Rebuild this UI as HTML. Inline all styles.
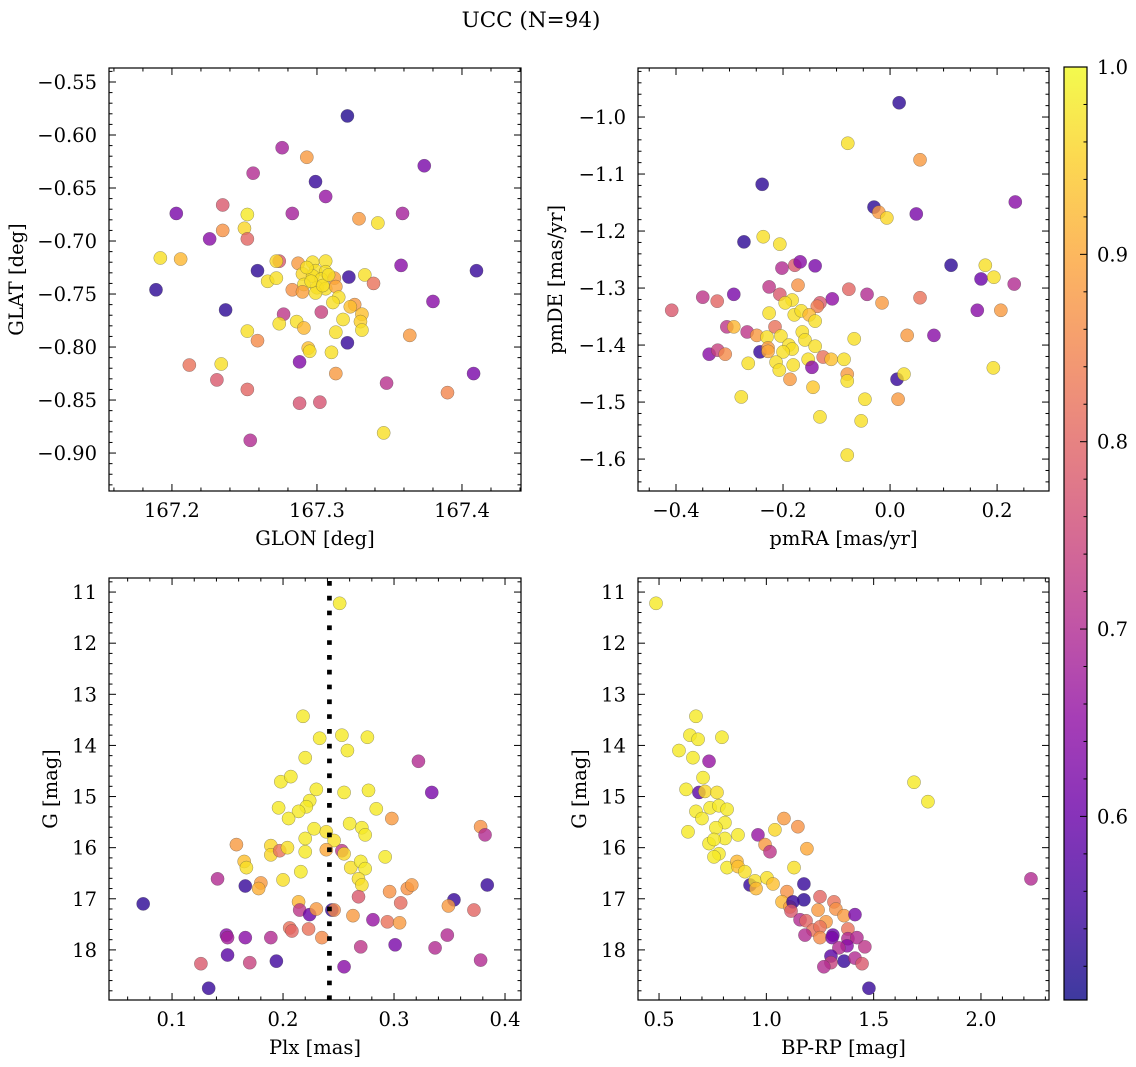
<!DOCTYPE html>
<html>
<head>
<meta charset="utf-8">
<style>
  html,body{margin:0;padding:0;background:#fff;}
  svg{display:block;}
  text{font-family:"DejaVu Serif","Liberation Serif",serif;fill:#000;}
</style>
</head>
<body>
<svg id="fig" width="1136" height="1067" viewBox="0 0 1136 1067" xmlns="http://www.w3.org/2000/svg">
  <text x="531" y="27" font-size="21.5" text-anchor="middle">UCC (N=94)</text>
</svg>
<script>
// ---------- data: [x, y, membership probability] ----------
const skyPoints = [
[167.321,-0.582,.52],[167.276,-0.612,.68],[167.293,-0.621,.88],[167.256,-0.636,.70],[167.299,-0.644,.54],
[167.374,-0.629,.62],[167.306,-0.658,.66],[167.235,-0.666,.78],[167.203,-0.674,.62],[167.283,-0.674,.68],
[167.252,-0.675,.98],[167.329,-0.679,.88],[167.342,-0.683,.97],[167.359,-0.674,.68],[167.235,-0.690,.87],
[167.250,-0.688,.96],[167.226,-0.698,.64],[167.252,-0.698,.80],[167.192,-0.716,.97],[167.206,-0.717,.92],
[167.259,-0.728,.53],[167.189,-0.746,.53],[167.410,-0.728,.54],[167.358,-0.723,.64],[167.322,-0.734,.54],
[167.333,-0.732,.97],[167.339,-0.740,.82],[167.380,-0.757,.64],[167.237,-0.765,.53],[167.274,-0.719,.78],
[167.272,-0.719,.96],[167.266,-0.738,.97],[167.272,-0.735,.97],[167.287,-0.721,.88],[167.297,-0.720,.97],
[167.306,-0.719,.97],[167.290,-0.731,.96],[167.299,-0.728,.97],[167.306,-0.729,.97],[167.297,-0.733,.97],
[167.303,-0.736,.97],[167.312,-0.735,.88],[167.291,-0.741,.97],[167.300,-0.744,.97],[167.306,-0.745,.97],
[167.313,-0.743,.90],[167.283,-0.746,.87],[167.290,-0.748,.89],[167.299,-0.749,.97],[167.315,-0.753,.97],
[167.311,-0.758,.97],[167.326,-0.760,.88],[167.323,-0.762,.93],[167.331,-0.769,.93],[167.330,-0.776,.95],
[167.331,-0.784,.97],[167.318,-0.774,.97],[167.303,-0.767,.74],[167.277,-0.769,.72],[167.274,-0.778,.97],
[167.286,-0.776,.97],[167.291,-0.782,.92],[167.313,-0.786,.97],[167.252,-0.785,.97],[167.259,-0.794,.86],
[167.321,-0.796,.54],[167.364,-0.789,.88],[167.294,-0.801,.93],[167.295,-0.804,.97],[167.310,-0.805,.97],
[167.288,-0.814,.63],[167.234,-0.816,.97],[167.212,-0.817,.82],[167.313,-0.825,.88],[167.408,-0.825,.62],
[167.231,-0.831,.78],[167.348,-0.834,.71],[167.252,-0.840,.80],[167.390,-0.843,.85],[167.288,-0.853,.77],
[167.302,-0.852,.77],[167.346,-0.881,.97],[167.254,-0.888,.70],
[167.296,-0.738,.97],[167.304,-0.742,.97],[167.293,-0.725,.97],[167.308,-0.732,.97]
];
const pmPoints = [
[0.017,-0.975,.53],[-0.079,-1.046,.97],[0.056,-1.075,.88],[-0.239,-1.118,.53],[-0.030,-1.158,.53],
[-0.021,-1.167,.88],[-0.006,-1.177,.96],[0.049,-1.170,.62],[0.234,-1.149,.64],[-0.273,-1.219,.53],
[-0.237,-1.210,.97],[-0.206,-1.223,.97],[-0.202,-1.265,.70],[-0.178,-1.260,.78],[-0.168,-1.254,.64],
[-0.140,-1.261,.62],[0.114,-1.260,.53],[0.178,-1.260,.97],[0.170,-1.284,.60],[0.194,-1.281,.97],
[0.232,-1.293,.70],[-0.350,-1.316,.72],[-0.323,-1.323,.80],[-0.292,-1.311,.62],[-0.408,-1.339,.78],
[-0.226,-1.298,.72],[-0.206,-1.311,.78],[-0.172,-1.295,.87],[-0.077,-1.302,.80],[-0.043,-1.311,.70],
[-0.015,-1.326,.88],[0.056,-1.317,.82],[-0.108,-1.319,.65],[-0.131,-1.326,.78],[-0.136,-1.332,.84],
[-0.183,-1.321,.97],[-0.196,-1.326,.97],[-0.226,-1.344,.97],[-0.179,-1.347,.97],[-0.166,-1.340,.97],
[-0.151,-1.347,.92],[-0.140,-1.358,.97],[0.163,-1.339,.64],[0.207,-1.339,.88],[-0.305,-1.368,.72],
[-0.292,-1.368,.92],[-0.267,-1.377,.72],[-0.249,-1.383,.88],[-0.215,-1.368,.82],[-0.230,-1.386,.97],
[-0.204,-1.384,.97],[-0.164,-1.377,.97],[-0.159,-1.391,.97],[-0.140,-1.402,.97],[-0.067,-1.389,.97],
[0.032,-1.383,.88],[0.082,-1.383,.64],[-0.338,-1.416,.64],[-0.322,-1.409,.74],[-0.308,-1.416,.86],
[-0.243,-1.412,.54],[-0.228,-1.405,.88],[-0.228,-1.411,.90],[-0.189,-1.400,.97],[-0.183,-1.407,.97],
[-0.200,-1.412,.97],[-0.265,-1.432,.97],[-0.213,-1.430,.97],[-0.207,-1.444,.97],[-0.181,-1.435,.97],
[-0.153,-1.425,.97],[-0.125,-1.421,.82],[-0.110,-1.425,.93],[-0.086,-1.425,.97],[-0.146,-1.439,.64],
[-0.187,-1.460,.88],[-0.144,-1.474,.94],[-0.080,-1.451,.88],[-0.080,-1.463,.97],[0.013,-1.460,.54],
[0.026,-1.451,.97],[0.193,-1.440,.97],[-0.278,-1.491,.97],[-0.047,-1.495,.97],[0.015,-1.495,.88],
[-0.131,-1.526,.97],[-0.054,-1.533,.97],[-0.080,-1.593,.97]
];
const plxPoints = [
[0.251,11.22,.98],[0.218,13.43,.98],[0.233,13.86,.98],[0.253,13.80,.98],[0.276,13.84,.98],[0.258,14.10,.98],
[0.220,14.24,.98],[0.322,14.31,.70],[0.334,14.92,.62],[0.198,14.71,.98],[0.207,14.61,.98],[0.230,14.86,.98],
[0.255,14.92,.98],[0.277,14.88,.98],[0.224,15.08,.98],[0.221,15.20,.98],[0.214,15.29,.98],[0.196,15.22,.98],
[0.205,15.43,.98],[0.284,15.24,.98],[0.298,15.43,.88],[0.228,15.63,.98],[0.239,15.69,.97],[0.260,15.53,.98],
[0.271,15.61,.98],[0.274,15.75,.98],[0.220,15.82,.98],[0.246,15.86,.97],[0.378,15.59,.87],[0.382,15.75,.70],
[0.158,15.94,.88],[0.189,15.96,.96],[0.189,16.14,.96],[0.197,16.06,.82],[0.204,16.00,.97],[0.220,16.08,.98],
[0.239,16.04,.90],[0.253,16.06,.72],[0.255,16.12,.96],[0.292,16.18,.98],[0.165,16.27,.93],[0.167,16.39,.97],
[0.261,16.39,.97],[0.270,16.27,.98],[0.274,16.41,.98],[0.216,16.47,.98],[0.268,16.61,.97],[0.271,16.73,.97],
[0.141,16.61,.70],[0.180,16.69,.88],[0.178,16.80,.91],[0.200,16.63,.97],[0.166,16.75,.54],[0.384,16.73,.54],
[0.296,16.86,.87],[0.312,16.80,.87],[0.316,16.73,.88],[0.268,16.96,.78],[0.306,17.08,.81],[0.354,17.02,.54],
[0.349,17.14,.88],[0.372,17.22,.80],[0.074,17.10,.53],[0.214,17.06,.92],[0.215,17.22,.72],[0.224,17.31,.60],
[0.230,17.20,.88],[0.244,17.22,.54],[0.246,17.22,.86],[0.263,17.33,.88],[0.281,17.41,.66],[0.294,17.45,.82],
[0.305,17.47,.88],[0.206,17.57,.82],[0.208,17.63,.80],[0.223,17.59,.82],[0.235,17.76,.86],[0.149,17.71,.64],
[0.150,17.76,.68],[0.166,17.76,.64],[0.189,17.76,.70],[0.348,17.71,.70],[0.270,17.94,.72],[0.301,17.90,.62],
[0.337,17.96,.70],[0.150,18.10,.58],[0.194,18.22,.55],[0.126,18.27,.78],[0.170,18.25,.74],[0.255,18.33,.64],
[0.378,18.20,.70],[0.133,18.75,.54]
];
const cmdPoints = [
[0.486,11.22,.98],[0.672,13.43,.98],[0.644,13.80,.98],[0.682,13.88,.98],[0.793,13.84,.98],[0.593,14.10,.98],
[0.658,14.24,.98],[0.733,14.31,.66],[0.705,14.63,.98],[0.626,14.86,.98],[0.686,14.92,.58],[0.714,14.90,.96],
[0.770,14.92,.97],[1.688,14.72,.98],[1.753,15.10,.98],[0.672,15.29,.98],[0.738,15.22,.98],[0.779,15.18,.98],
[0.817,15.25,.98],[0.700,15.43,.98],[0.807,15.51,.98],[0.635,15.69,.98],[0.765,15.61,.98],[0.807,15.82,.98],
[0.868,15.75,.98],[1.082,15.43,.88],[1.147,15.59,.87],[1.040,15.65,.96],[0.961,15.75,.66],[0.994,15.94,.88],
[1.017,16.08,.72],[1.189,16.02,.90],[0.733,15.92,.98],[0.756,15.84,.98],[0.779,16.12,.98],[0.756,16.18,.98],
[0.817,16.39,.98],[0.863,16.27,.92],[0.868,16.37,.93],[0.900,16.47,.97],[1.129,16.39,.97],[0.924,16.73,.54],
[0.947,16.65,.97],[0.952,16.80,.92],[1.003,16.59,.97],[1.031,16.71,.93],[1.175,16.71,.54],[1.096,16.86,.87],
[1.175,17.02,.53],[1.250,16.96,.80],[1.073,17.06,.92],[1.110,17.16,.88],[1.124,17.06,.54],[1.115,17.24,.78],
[1.241,17.22,.88],[1.315,17.06,.82],[1.324,17.20,.87],[1.362,17.33,.88],[1.413,17.31,.62],[1.157,17.41,.70],
[1.185,17.43,.80],[1.278,17.45,.88],[1.217,17.61,.82],[1.250,17.55,.82],[1.380,17.59,.82],[1.180,17.71,.70],
[1.250,17.76,.86],[1.310,17.71,.60],[1.306,17.76,.62],[1.380,17.78,.70],[1.422,17.76,.70],[1.376,17.92,.64],
[1.459,17.94,.72],[1.338,17.96,.70],[1.301,18.12,.58],[1.362,18.22,.54],[1.413,18.16,.70],[1.446,18.27,.78],
[1.301,18.25,.74],[1.268,18.33,.70],[2.233,16.61,.70],[1.478,18.75,.54]
];
const plxCut = [0.2418];
const colorTicks = [0.6, 0.7, 0.8, 0.9, 1.0];
const colorRange = [0.502, 1.0];

// ---------- helpers ----------
const NS = "http://www.w3.org/2000/svg";
const svg = document.getElementById('fig');
const FS = 19.5;
function mk(tag, attrs, parent){
  const e = document.createElementNS(NS, tag);
  for (const k in attrs) e.setAttribute(k, attrs[k]);
  (parent||svg).appendChild(e);
  return e;
}
const plasma = [[13,8,135],[65,4,157],[106,0,168],[143,13,164],[177,42,144],[204,71,120],[225,100,98],[242,132,75],[252,166,54],[252,206,37],[240,249,33]];
function cmap(v){
  let t = (v-colorRange[0])/(colorRange[1]-colorRange[0]);
  t = Math.max(0, Math.min(1, t));
  const s = t*10, i = Math.min(9, Math.floor(s)), f = s-i;
  const a = plasma[i], b = plasma[i+1];
  return 'rgb(' + [0,1,2].map(k => Math.round(a[k]+(b[k]-a[k])*f)).join(',') + ')';
}
function fmt(v, d){ const s = Math.abs(v) < 1e-9 ? (0).toFixed(d) : v.toFixed(d); return s.replace('-', '\u2212'); }

function panel(cfg){
  const g = mk('g', {});
  
  
  const L=cfg.L, R=cfg.R, T=cfg.T, B=cfg.B;
  const sx = v => L + (v-cfg.xd[0])/(cfg.xd[1]-cfg.xd[0])*(R-L);
  const sy = cfg.yInvert ? (v => T + (v-cfg.yd[0])/(cfg.yd[1]-cfg.yd[0])*(B-T))
                         : (v => B - (v-cfg.yd[0])/(cfg.yd[1]-cfg.yd[0])*(B-T));
  const pg = mk('g', {}, g);
  
  
  cfg.pts.forEach(p => {
    const c = mk('circle', {cx: sx(p[0]).toFixed(2), cy: sy(p[1]).toFixed(2), r: 6.6, fill: cmap(p[2]), 'fill-opacity': 0.8, stroke: 'rgba(70,70,70,0.55)', 'stroke-width': 0.5}, pg);
    
    
  });
  if (cfg.vline){
    const vl = mk('line', {x1: sx(cfg.vline[0]), x2: sx(cfg.vline[0]), y1: T+3, y2: B, stroke:'#000', 'stroke-width': 4.7, 'stroke-dasharray': '4.7 10.1'}, g);
    
    
  }
  const tg = mk('g', {stroke:'#000', 'stroke-width':1}, g);
  
  
  const eps = 1e-9;
  function range(a, b, step){ const out=[]; const s=Math.ceil(a/step-eps); for(let k=s; k*step<=b+eps; k++) out.push(+(k*step).toFixed(6)); return out; }
  const isMaj = (v, st) => Math.abs(v/st - Math.round(v/st)) < 1e-6;
  range(cfg.xd[0], cfg.xd[1], cfg.xMin).forEach(v => {
    const x = sx(v); const len = isMaj(v, cfg.xMaj) ? 7 : 3.5;
    mk('line', {x1:x, x2:x, y1:B, y2:B-len}, tg);
    mk('line', {x1:x, x2:x, y1:T, y2:T+len}, tg);
  });
  const ylo = Math.min(cfg.yd[0], cfg.yd[1]), yhi = Math.max(cfg.yd[0], cfg.yd[1]);
  range(ylo, yhi, cfg.yMin).forEach(v => {
    const y = sy(v); const len = isMaj(v, cfg.yMaj) ? 7 : 3.5;
    mk('line', {x1:L, x2:L+len, y1:y, y2:y}, tg);
    mk('line', {x1:R, x2:R-len, y1:y, y2:y}, tg);
  });
  range(cfg.xd[0], cfg.xd[1], cfg.xMaj).forEach(v => {
    const t = mk('text', {x: sx(v), y: B+26, 'font-size': FS, 'text-anchor': 'middle'}, g);
    t.textContent = fmt(v, cfg.xDec);
    
    
  });
  range(ylo, yhi, cfg.yMaj).forEach(v => {
    const t = mk('text', {x: L-12, y: sy(v)+7, 'font-size': FS, 'text-anchor': 'end'}, g);
    t.textContent = fmt(v, cfg.yDec);
    
    
  });
  const fr = mk('rect', {x:L, y:T, width:R-L, height:B-T, fill:'none', stroke:'#000', 'stroke-width':1.2}, g);
  
  
  const xl = mk('text', {x:(L+R)/2, y:B+54, 'font-size':FS, 'text-anchor':'middle'}, g);
  xl.textContent = cfg.xLabel;
  
  
  const cy = (T+B)/2;
  const yl = mk('text', {x:cfg.yLabX, y:cy, 'font-size':FS, 'text-anchor':'middle', transform:'rotate(-90 '+cfg.yLabX+' '+cy+')'}, g);
  yl.textContent = cfg.yLabel;
  
  
}

panel({name:'sky-panel', L:109, R:521, T:68, B:491, xd:[167.1566,167.4407], yd:[-0.9358,-0.5368], yInvert:false,
  xMaj:0.1, xMin:0.02, yMaj:0.05, yMin:0.01, xDec:1, yDec:2, pts:skyPoints,
  xLabel:'GLON [deg]', yLabel:'GLAT [deg]', yLabX:23});
panel({name:'proper-motion-panel', L:638, R:1049, T:68, B:491, xd:[-0.471,0.297], yd:[-1.656,-0.914], yInvert:false,
  xMaj:0.2, xMin:0.05, yMaj:0.1, yMin:0.02, xDec:1, yDec:1, pts:pmPoints,
  xLabel:'pmRA [mas/yr]', yLabel:'pmDE [mas/yr]', yLabX:562});
panel({name:'parallax-panel', L:109, R:521, T:578, B:1000, xd:[0.0432,0.4144], yd:[10.725,18.98], yInvert:true,
  xMaj:0.1, xMin:0.02, yMaj:1, yMin:0.2, xDec:1, yDec:0, pts:plxPoints, vline:plxCut,
  xLabel:'Plx [mas]', yLabel:'G [mag]', yLabX:57});
panel({name:'cmd-panel', L:638, R:1049, T:578, B:1000, xd:[0.402,2.317], yd:[10.725,18.98], yInvert:true,
  xMaj:0.5, xMin:0.1, yMaj:1, yMin:0.2, xDec:1, yDec:0, pts:cmdPoints,
  xLabel:'BP-RP [mag]', yLabel:'G [mag]', yLabX:586});

// ---------- colorbar ----------
(function(){
  const L=1064, R=1087, T=67, B=1000;
  const g = mk('g', {});
  
  
  const defs = mk('defs', {}, g);
  const lg = mk('linearGradient', {id:'cbgrad', x1:0, y1:1, x2:0, y2:0}, defs);
  for (let i=0;i<=20;i++){
    const v = colorRange[0] + (colorRange[1]-colorRange[0])*i/20;
    mk('stop', {offset: (i/20), 'stop-color': cmap(v), 'stop-opacity': 0.8}, lg);
  }
  const bar = mk('rect', {x:L, y:T, width:R-L, height:B-T, fill:'url(#cbgrad)', stroke:'#000', 'stroke-width':1.2}, g);
  
  
  const sy = v => B - (v-colorRange[0])/(colorRange[1]-colorRange[0])*(B-T);
  for (let k=Math.ceil(colorRange[0]/0.02-1e-9); k*0.02<=colorRange[1]+1e-9; k++){
    const v = k*0.02; const maj = Math.abs(v*10-Math.round(v*10))<1e-6;
    mk('line', {x1:R, x2:R-(maj?7:3.5), y1:sy(v), y2:sy(v), stroke:'#000', 'stroke-width':1}, g);
  }
  colorTicks.forEach(v => {
    const t = mk('text', {x:R+10, y:sy(v)+7, 'font-size':FS}, g);
    t.textContent = v.toFixed(1);
    
    
  });
})();
</script>
</body>
</html>
